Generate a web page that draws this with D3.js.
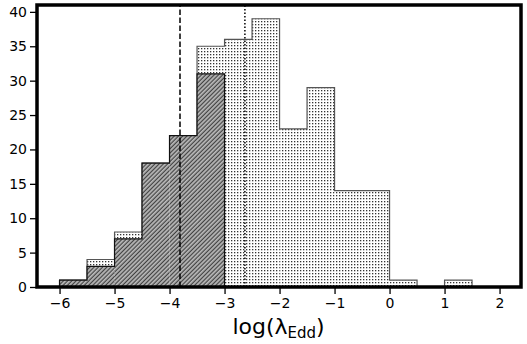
<!DOCTYPE html>
<html>
<head>
<meta charset="utf-8">
<script src="https://cdn.jsdelivr.net/npm/d3@7"></script>
<style>
  body { margin: 0; background: #fff; }
  text { font-family: "DejaVu Sans", sans-serif; }
</style>
</head>
<body>
<svg id="chart" width="527" height="344"></svg>
<script>
// bin edges (width 0.5) and counts
const binStarts = [-6, -5.5, -5, -4.5, -4, -3.5, -3, -2.5, -2, -1.5, -1, -0.5, 0, 0.5, 1];
const allCounts = [1, 4, 8, 18, 22, 35, 36, 39, 23, 29, 14, 14, 1, 0, 1];
const subCounts = [1, 3, 7, 18, 22, 31, 0, 0, 0, 0, 0, 0, 0, 0, 0];
const binWidth = 0.5;

const medianSub = -3.81;  // dashed line
const medianAll = -2.63;  // dotted line

const xTicks = [-6, -5, -4, -3, -2, -1, 0, 1, 2];
const yTicks = [0, 5, 10, 15, 20, 25, 30, 35, 40];

const svg = d3.select("#chart");
const margin = { left: 37, right: 6, top: 5, bottom: 57 };
const width = 527 - margin.left - margin.right;
const height = 344 - margin.top - margin.bottom;

const x = d3.scaleLinear().domain([-6.41, 2.39]).range([margin.left, margin.left + width]);
const y = d3.scaleLinear().domain([0, 41]).range([margin.top + height, margin.top]);

// patterns
const defs = svg.append("defs");
const dots = defs.append("pattern")
    .attr("id", "dots")
    .attr("patternUnits", "userSpaceOnUse")
    .attr("width", 3).attr("height", 3);
dots.append("rect").attr("width", 3).attr("height", 3).attr("fill", "#fff");
dots.append("rect").attr("width", 1.3).attr("height", 1.3).attr("fill", "#333");

const hatch = defs.append("pattern")
    .attr("id", "hatch")
    .attr("patternUnits", "userSpaceOnUse")
    .attr("width", 3).attr("height", 3)
    .attr("patternTransform", "rotate(45)");
hatch.append("rect").attr("width", 3).attr("height", 3).attr("fill", "#8a8a8a");
hatch.append("line").attr("x1", 0).attr("y1", 0).attr("x2", 0).attr("y2", 3)
    .attr("stroke", "#111").attr("stroke-width", 1.2);
hatch.append("line").attr("x1", 1.8).attr("y1", 0).attr("x2", 1.8).attr("y2", 3)
    .attr("stroke", "#eee").attr("stroke-width", 0.7);

// outline of a step histogram
function stepPath(counts) {
  const pts = [[binStarts[0], 0]];
  counts.forEach((c, i) => {
    pts.push([binStarts[i], c]);
    pts.push([binStarts[i] + binWidth, c]);
  });
  pts.push([binStarts[counts.length - 1] + binWidth, 0]);
  return d3.line().x(d => x(d[0])).y(d => y(d[1]))(pts);
}

function trimmed(counts) {
  let last = counts.length - 1;
  while (last > 0 && counts[last] === 0) last--;
  return counts.slice(0, last + 1);
}

// full sample (dotted)
svg.selectAll("rect.all").data(allCounts).enter().append("rect")
    .attr("class", "all")
    .attr("x", (d, i) => x(binStarts[i]))
    .attr("width", x(binWidth) - x(0))
    .attr("y", d => y(d))
    .attr("height", d => y(0) - y(d))
    .attr("fill", "url(#dots)");
svg.append("path")
    .attr("d", stepPath(allCounts))
    .attr("fill", "none")
    .attr("stroke", "#555")
    .attr("stroke-width", 1.2);

// subsample (hatched)
const sub = trimmed(subCounts);
svg.selectAll("rect.sub").data(sub).enter().append("rect")
    .attr("class", "sub")
    .attr("x", (d, i) => x(binStarts[i]))
    .attr("width", x(binWidth) - x(0))
    .attr("y", d => y(d))
    .attr("height", d => y(0) - y(d))
    .attr("fill", "url(#hatch)");
svg.append("path")
    .attr("d", stepPath(sub))
    .attr("fill", "none")
    .attr("stroke", "#111")
    .attr("stroke-width", 1.2);

// median lines
svg.append("line")
    .attr("x1", x(medianSub)).attr("x2", x(medianSub))
    .attr("y1", y(0)).attr("y2", y(41))
    .attr("stroke", "#000").attr("stroke-width", 1.5)
    .attr("stroke-dasharray", "5.5,2.5");
svg.append("line")
    .attr("x1", x(medianAll)).attr("x2", x(medianAll))
    .attr("y1", y(0)).attr("y2", y(41))
    .attr("stroke", "#000").attr("stroke-width", 1.5)
    .attr("stroke-dasharray", "1.5,2");

// axes
const xAxis = svg.append("g")
    .attr("transform", `translate(0,${y(0)})`)
    .call(d3.axisBottom(x).tickValues(xTicks).tickSize(7).tickPadding(4)
      .tickFormat(d => d < 0 ? "\u2212" + Math.abs(d) : d));
const yAxis = svg.append("g")
    .attr("transform", `translate(${x.range()[0]},0)`)
    .call(d3.axisLeft(y).tickValues(yTicks).tickSize(7).tickPadding(3));
[xAxis, yAxis].forEach(g => {
  g.select(".domain").remove();
  g.selectAll(".tick line").attr("stroke", "#000").attr("stroke-width", 1.3);
  g.selectAll(".tick text").attr("font-size", 14).attr("fill", "#000")
      .style("font-family", "DejaVu Sans, sans-serif");
});

// frame
svg.append("rect")
    .attr("x", x.range()[0]).attr("y", y.range()[1])
    .attr("width", width).attr("height", height)
    .attr("fill", "none").attr("stroke", "#000").attr("stroke-width", 3.5);

// x label
const label = svg.append("text")
    .attr("x", x(-2) - 1)
    .attr("y", 334)
    .attr("text-anchor", "middle")
    .attr("font-size", 22);
label.append("tspan").text("log(\u03bb");
label.append("tspan").attr("font-size", 15).attr("dy", 4).text("Edd");
label.append("tspan").attr("dy", -4).text(")");
</script>
</body>
</html>
